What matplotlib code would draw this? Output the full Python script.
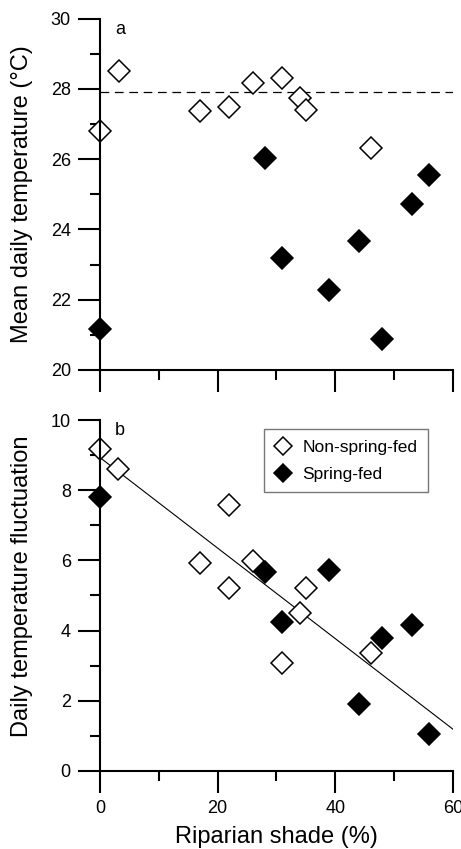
import matplotlib
matplotlib.use('Agg')
import matplotlib.pyplot as plt
import numpy as np

# panel a: mean daily temperature
shade_non_a = [0, 3.3, 17, 22, 26, 31, 34, 35, 46]
temp_non = [26.8, 28.5, 27.37, 27.47, 28.17, 28.32, 27.75, 27.39, 26.33]
shade_spr_a = [0, 28, 31, 39, 44, 48, 53, 56]
temp_spr = [21.18, 26.04, 23.18, 22.27, 23.68, 20.88, 24.72, 25.56]
temp_ref = 27.9

# panel b: daily temperature fluctuation
shade_non_b = [0, 3, 17, 22, 22, 26, 31, 34, 35, 46]
fluct_non = [9.18, 8.61, 5.93, 7.59, 5.2, 5.98, 3.08, 4.51, 5.22, 3.37]
shade_spr_b = [0, 28, 31, 39, 44, 48, 53, 56]
fluct_spr = [7.81, 5.67, 4.25, 5.72, 1.9, 3.8, 4.16, 1.04]
fit_intercept = 8.93
fit_slope = -0.129

plt.rcParams['font.family'] = ['Liberation Sans', 'DejaVu Sans']

fig = plt.figure(figsize=(4.61, 8.49), dpi=100)
ax1 = fig.add_axes([0.2169, 0.5642, 0.7657, 0.4140])
ax2 = fig.add_axes([0.2169, 0.0919, 0.7657, 0.4134])

ms = 10.7

def style(ax):
	for s in ['top', 'right']:
		ax.spines[s].set_visible(False)
	for s in ['left', 'bottom']:
		ax.spines[s].set_linewidth(1.5)
	ax.set_xlim(0, 60)
	ax.set_xticks([0, 20, 40, 60])
	ax.set_xticks([10, 30, 50], minor=True)
	ax.tick_params(which='major', direction='out', length=16, width=1.5, labelsize=13, pad=5)
	ax.tick_params(which='minor', direction='out', length=7.5, width=1.5)
	ax.tick_params(axis='y', which='major', pad=5)
#

style(ax1)
ax1.set_ylim(20, 30)
ax1.set_yticks([20, 22, 24, 26, 28, 30])
ax1.set_yticks([21, 23, 25, 27, 29], minor=True)
ax1.set_xticklabels([])
ax1.plot([0, 60], [temp_ref, temp_ref], color='black', lw=0.9, dashes=(7, 4.5))
ax1.plot(shade_non_a, temp_non, 'D', ms=ms, mfc='white', mec='black', mew=1.1, clip_on=False, ls='none')
ax1.plot(shade_spr_a, temp_spr, 'D', ms=ms, mfc='black', mec='black', mew=1.1, clip_on=False, ls='none')
ax1.text(0.057, 0.97, 'a', transform=ax1.transAxes, fontsize=13, va='center', ha='center')
ax1.set_ylabel('Mean daily temperature (°C)', fontsize=17)
ax1.yaxis.set_label_coords(-0.19, 0.5)

style(ax2)
ax2.set_ylim(0, 10)
ax2.set_yticks([0, 2, 4, 6, 8, 10])
ax2.set_yticks([1, 3, 5, 7, 9], minor=True)
xf = np.array([0, 60])
ax2.plot(xf, fit_intercept + fit_slope * xf, color='black', lw=0.8)
h1, = ax2.plot(shade_non_b, fluct_non, 'D', ms=ms, mfc='white', mec='black', mew=1.1, clip_on=False, ls='none', label='Non-spring-fed')
h2, = ax2.plot(shade_spr_b, fluct_spr, 'D', ms=ms, mfc='black', mec='black', mew=1.1, clip_on=False, ls='none', label='Spring-fed')
ax2.text(0.057, 0.97, 'b', transform=ax2.transAxes, fontsize=13, va='center', ha='center')
leg = ax2.legend(handles=[h1, h2], loc='upper right', bbox_to_anchor=(0.929, 0.974), fontsize=12.5,
	fancybox=False, edgecolor='#777777', framealpha=1, handlelength=1.0, handletextpad=0.6,
	borderpad=0.6, labelspacing=0.7, borderaxespad=0, markerscale=0.9)
leg.get_frame().set_linewidth(1.0)
ax2.set_ylabel('Daily temperature fluctuation', fontsize=17)
ax2.yaxis.set_label_coords(-0.19, 0.527)
ax2.set_xlabel('Riparian shade (%)', fontsize=17)
ax2.xaxis.set_label_coords(0.5, -0.157)

plt.savefig('out.png', dpi=100)
